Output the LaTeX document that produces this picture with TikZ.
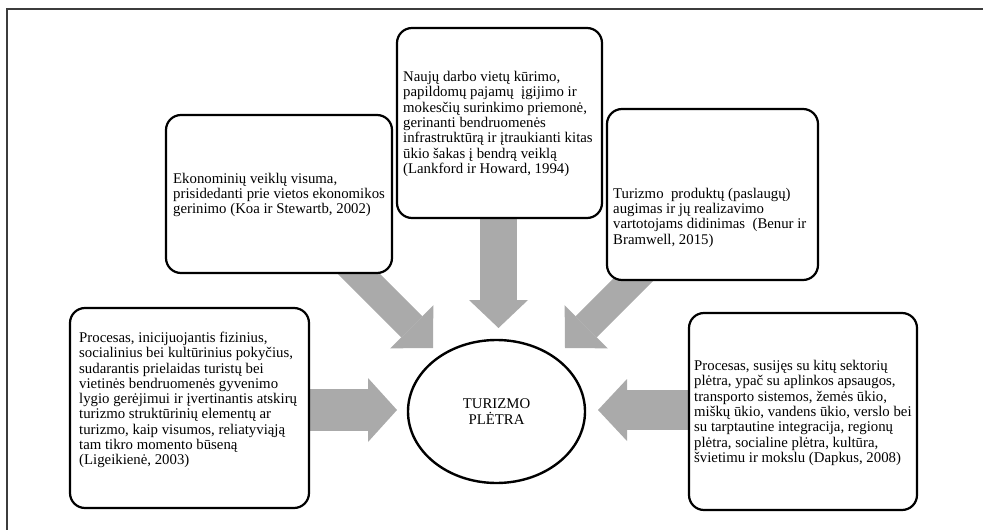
\documentclass[tikz,border=0pt]{standalone}
\usepackage{fontspec}
\setmainfont{Liberation Serif}
\usetikzlibrary{arrows.meta,backgrounds,calc,shapes.geometric}
\definecolor{arrowgray}{RGB}{170,170,170}
\definecolor{framegray}{RGB}{60,60,60}
\begin{document}
\begin{tikzpicture}[x=1pt,y=-1pt,
  card/.style={draw=black, line width=2.2pt, rounded corners=15pt, fill=white,
               inner sep=0pt, rectangle},
  hub/.style={draw=black, line width=2.4pt, ellipse, fill=white, inner sep=0pt,
              align=center, font=\fontsize{14.8}{15.3}\selectfont},
  note/.style={inner sep=0pt, align=left, anchor=west,
               font=\fontsize{14.8}{15.3}\selectfont},
  fat/.style n args={3}{draw=arrowgray, line cap=butt, line width=#1,
               -{Triangle[width=#2, length=#3, line width=0pt]}},
  frame/.style={draw=framegray, line width=1.5pt}
]
\useasboundingbox (0,0) rectangle (983,530);

% page frame (top and left rules)
\coordinate (frameTL) at (7,9);
\coordinate (frameTR) at (983,9);
\coordinate (frameBL) at (7,530);
\draw[frame] (frameTR) -- (frameTL) -- (frameBL);

% definition cards
\node[card, minimum width=226pt, minimum height=158pt] (boxA) at (279,194) {};
\node[card, minimum width=205pt, minimum height=190pt] (boxB) at (499.5,123) {};
\node[card, minimum width=211pt, minimum height=171pt] (boxC) at (712.5,194.5) {};
\node[card, minimum width=239pt, minimum height=200pt] (boxD) at (189.5,408) {};
\node[card, minimum width=228pt, minimum height=197pt] (boxE) at (803,411.5) {};

% central concept
\node[hub, minimum width=177pt, minimum height=143pt] (hub) at (496.5,411.5)
  {TURIZMO\\PLĖTRA};

% card texts
\node[note] (tA) at (173,195) {Ekonominių veiklų visuma,\\prisidedanti prie vietos ekonomikos\\gerinimo (Koa ir Stewartb, 2002)};
\node[note] (tB) at (403,124) {Naujų darbo vietų kūrimo,\\papildomų pajamų\ \ įgijimo ir\\mokesčių surinkimo priemonė,\\gerinanti bendruomenės\\infrastruktūrą ir įtraukianti kitas\\ūkio šakas į bendrą veiklą\\(Lankford ir Howard, 1994)};
\node[note] (tC) at (613,217.5) {Turizmo\ \ produktų (paslaugų)\\augimas ir jų realizavimo\\vartotojams didinimas\ \ (Benur ir\\Bramwell, 2015)};
\node[note] (tD) at (79,400) {Procesas, inicijuojantis fizinius,\\socialinius bei kultūrinius pokyčius,\\sudarantis prielaidas turistų bei\\vietinės bendruomenės gyvenimo\\lygio gerėjimui ir įvertinantis atskirų\\turizmo struktūrinių elementų ar\\turizmo, kaip visumos, reliatyviąją\\tam tikro momento būseną\\(Ligeikienė, 2003)};
\node[note] (tE) at (694,413) {Procesas, susijęs su kitų sektorių\\plėtra, ypač su aplinkos apsaugos,\\transporto sistemos, žemės ūkio,\\miškų ūkio, vandens ūkio, verslo bei\\su tarptautine integracija, regionų\\plėtra, socialine plėtra, kultūra,\\švietimu ir mokslu (Dapkus, 2008)};

% arrow tips and hidden starts of the diagonal arrows
\coordinate (tipN) at (498.5,328);
\coordinate (tipNW) at (433,348);
\coordinate (tipNE) at (565,348);
\coordinate (tipW) at (397,410);
\coordinate (tipE) at (598,410);
\coordinate (startNW) at (340,255);
\coordinate (startNE) at (655,258);

% block arrows, behind the cards
\begin{pgfonlayer}{background}
  \draw[fat={37pt}{59pt}{28pt}] (tipN |- boxB.south) -- (tipN);
  \draw[fat={30pt}{61pt}{30pt}] (startNW) -- (tipNW);
  \draw[fat={30pt}{61pt}{30pt}] (startNE) -- (tipNE);
  \draw[fat={42pt}{64pt}{29pt}] (boxD.east |- tipW) -- (tipW);
  \draw[fat={40pt}{62pt}{29pt}] (boxE.west |- tipE) -- (tipE);
\end{pgfonlayer}
\end{tikzpicture}
\end{document}
